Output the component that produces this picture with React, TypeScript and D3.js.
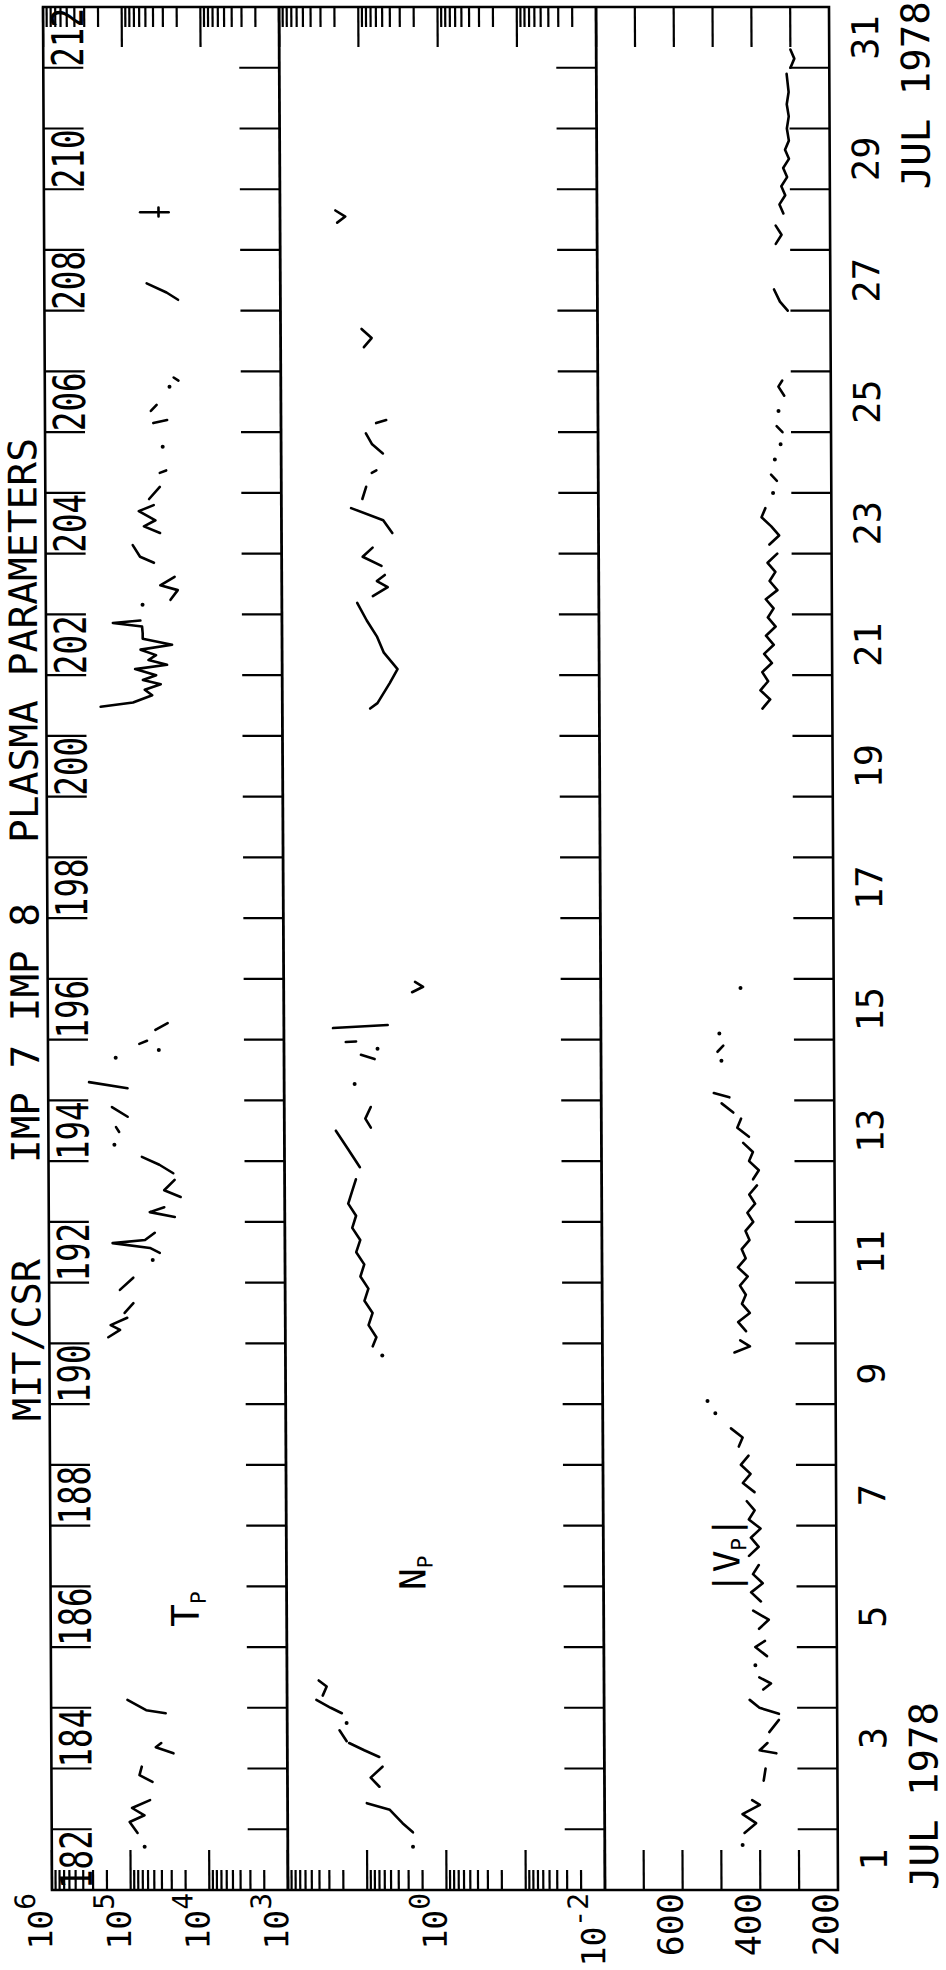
import React from 'react';
import * as d3 from 'd3';

type Pt = [number, number];

// ---- axis labels / ticks ----
const dayBoundaries = d3.range(1, 33);
const dayLabels = [1, 3, 5, 7, 9, 11, 13, 15, 17, 19, 21, 23, 25, 27, 29, 31];
const doyLabels = [182, 184, 186, 188, 190, 192, 194, 196, 198, 200, 202, 204, 206, 208, 210, 212];
const tpDecades = [1e3, 1e4, 1e5, 1e6];
const npDecades = [1e-2, 1e-1, 1e0, 1e1, 1e2];
const vpTicks = [300, 400, 500, 600, 700];
const tpLabels = [6, 5, 4, 3];
const npLabels = [0, -2];
const vpLabels = [600, 400, 200];

// ---- data: [day of July (decimal), value] segments ----
const tpSegments: Pt[][] = [
  [[1.71, 66000]],
  [[1.94, 81000], [2.12, 102000], [2.23, 66000], [2.35, 95000], [2.48, 56000]],
  [[2.78, 52000], [2.89, 76000], [3.03, 71000]],
  [[3.25, 28000], [3.35, 47000], [3.42, 40000]],
  [[3.91, 35000], [3.96, 62000], [4.13, 107000]],
  [[10.1, 178000], [10.22, 126000], [10.3, 166000], [10.42, 102000]],
  [[10.5, 110000], [10.66, 85000]],
  [[10.88, 126000], [11.08, 85000]],
  [[11.37, 48000]],
  [[11.49, 39000], [11.57, 52000], [11.65, 155000], [11.7, 60000], [11.82, 45000]],
  [[12.08, 25000], [12.16, 52000], [12.24, 34000]],
  [[12.41, 21000], [12.52, 34000], [12.69, 25000]],
  [[12.8, 26000], [12.94, 39000], [13.07, 65000]],
  [[13.27, 145000]],
  [[13.48, 126000], [13.56, 138000]],
  [[13.73, 98000], [13.89, 155000]],
  [[14.2, 98000], [14.3, 302000]],
  [[14.7, 138000]],
  [[14.83, 39000]],
  [[14.93, 69000], [14.98, 55000]],
  [[15.16, 43000], [15.27, 30000]],
  [[20.48, 204000], [20.55, 79000], [20.67, 45000], [20.76, 56000], [20.85, 35000], [20.92, 59000],
   [21.0, 40000], [21.1, 74000], [21.17, 29000], [21.25, 50000], [21.33, 40000], [21.42, 63000],
   [21.5, 25000], [21.6, 59000], [21.69, 59000], [21.8, 60000], [21.86, 141000], [21.9, 63000]],
  [[22.16, 59000]],
  [[22.24, 26000], [22.4, 21000], [22.48, 35000], [22.62, 23000]],
  [[22.85, 42000], [22.95, 63000], [23.14, 78000]],
  [[23.34, 35000], [23.45, 56000], [23.55, 40000], [23.7, 65000], [23.8, 42000]],
  [[23.9, 48000], [24.1, 35000]],
  [[24.33, 35000], [24.37, 29000]],
  [[24.76, 32000]],
  [[25.15, 42000], [25.2, 28000]],
  [[25.35, 45000], [25.45, 38000]],
  [[25.75, 26000]],
  [[25.85, 20000], [25.9, 23000]],
  [[27.18, 20000], [27.3, 28000], [27.45, 50000]],
  [[28.55, 35000], [28.7, 35000]],
  [[28.62, 60000], [28.62, 26000]],
];

const npSegments: Pt[][] = [
  [[1.71, 2.63]],
  [[1.95, 2.63], [2.1, 3.55], [2.32, 5.13], [2.43, 10.0]],
  [[2.7, 6.92], [2.85, 8.91], [3.03, 6.31]],
  [[3.19, 6.92], [3.3, 10.7], [3.42, 16.6]],
  [[3.45, 17.8], [3.63, 21.9]],
  [[3.75, 17.8]],
  [[3.91, 20.4], [4.0, 28.2], [4.13, 42.7]],
  [[4.2, 35.5], [4.35, 31.6], [4.45, 39.8]],
  [[9.8, 6.0]],
  [[9.95, 7.9], [10.1, 7.1], [10.3, 8.9], [10.5, 7.9], [10.7, 10.0], [10.9, 8.9], [11.1, 11.2],
   [11.3, 10.0], [11.5, 12.6], [11.7, 11.2], [11.9, 14.1], [12.1, 12.6], [12.3, 15.8], [12.5, 14.1], [12.7, 12.6]],
  [[12.9, 11.2], [13.2, 15.8], [13.5, 22.4]],
  [[13.55, 8.1], [13.7, 9.5], [13.89, 8.1]],
  [[14.27, 12.9]],
  [[14.68, 7.2], [14.75, 10.7]],
  [[14.85, 6.6]],
  [[14.96, 16.6], [14.97, 12.3]],
  [[15.19, 24.0], [15.24, 4.9]],
  [[15.78, 2.4], [15.87, 1.74], [15.95, 2.2]],
  [[20.45, 7.8], [20.54, 6.3], [20.87, 4.4], [21.1, 3.5], [21.37, 5.2], [21.63, 6.3], [21.9, 8.5], [22.19, 11.2]],
  [[22.3, 7.1], [22.45, 4.6], [22.55, 6.3], [22.65, 5.0]],
  [[22.8, 5.5], [22.95, 9.5], [23.1, 7.1]],
  [[23.34, 4.0], [23.55, 5.2], [23.75, 13.2]],
  [[23.9, 9.5], [24.1, 8.5]],
  [[24.33, 7.2], [24.37, 6.3]],
  [[24.65, 5.2], [24.8, 7.1], [24.98, 8.5]],
  [[25.15, 6.3], [25.2, 4.7]],
  [[26.4, 8.9], [26.55, 7.1], [26.7, 9.5]],
  [[28.45, 19.0], [28.55, 15.0], [28.65, 20.0]],
];

const vpSegments: Pt[][] = [
  [[1.74, 445]],
  [[1.94, 440], [2.1, 410], [2.25, 445], [2.4, 400], [2.48, 420]],
  [[2.8, 390], [3.0, 385]],
  [[3.25, 357], [3.3, 400], [3.42, 380]],
  [[3.6, 375], [3.8, 350]],
  [[3.9, 350], [4.0, 400], [4.13, 425]],
  [[4.3, 390], [4.4, 370], [4.5, 400]],
  [[4.7, 410]],
  [[4.85, 380], [5.0, 410], [5.1, 385]],
  [[5.3, 400], [5.45, 375], [5.6, 415]],
  [[5.75, 395], [5.9, 420], [6.05, 390], [6.2, 415], [6.35, 400]],
  [[6.5, 425], [6.65, 400], [6.8, 420], [6.95, 395], [7.1, 425], [7.25, 410], [7.4, 430]],
  [[7.55, 410], [7.7, 440], [7.85, 420], [8.0, 445], [8.15, 425]],
  [[8.3, 450], [8.45, 440], [8.6, 470]],
  [[8.85, 510]],
  [[9.05, 530]],
  [[9.85, 460], [9.95, 420], [10.05, 445]],
  [[10.2, 430], [10.35, 450], [10.5, 420], [10.65, 440], [10.8, 430], [10.95, 445], [11.1, 425], [11.25, 450],
   [11.4, 430], [11.55, 440], [11.7, 420], [11.85, 430], [12.0, 410], [12.15, 425], [12.3, 405], [12.45, 420], [12.6, 400]],
  [[12.7, 410], [12.85, 395], [13.0, 420], [13.15, 410], [13.3, 435]],
  [[13.4, 420], [13.55, 450], [13.7, 440]],
  [[13.8, 460], [13.95, 490]],
  [[14.05, 470], [14.12, 510]],
  [[14.65, 490]],
  [[14.8, 500], [14.9, 485]],
  [[15.1, 495]],
  [[15.85, 440]],
  [[20.45, 380], [20.6, 360], [20.75, 385], [20.9, 365], [21.05, 380], [21.2, 355], [21.35, 375], [21.5, 350],
   [21.65, 370], [21.8, 345], [21.95, 365], [22.1, 350], [22.25, 370], [22.4, 340], [22.55, 360], [22.7, 345],
   [22.85, 365], [23.0, 340]],
  [[23.15, 360], [23.3, 335], [23.45, 355], [23.6, 380], [23.75, 370]],
  [[24.0, 350]],
  [[24.2, 340], [24.3, 355]],
  [[24.55, 345]],
  [[24.8, 330]],
  [[25.0, 325], [25.1, 340]],
  [[25.35, 335]],
  [[25.6, 320], [25.75, 335], [25.85, 325]],
  [[27.0, 310], [27.15, 330], [27.35, 345]],
  [[28.1, 340], [28.25, 325], [28.4, 340]],
  [[28.6, 320], [28.75, 330], [28.9, 315], [29.05, 325], [29.2, 310], [29.35, 320], [29.5, 305], [29.65, 315],
   [29.8, 305], [30.0, 310], [30.2, 305], [30.4, 310], [30.6, 305], [30.9, 310]],
  [[31.0, 300], [31.15, 290], [31.3, 300]],
];

// ---- layout (landscape, later rotated into the portrait page) ----
const PW = 1883; // time length
const PH = 786; // total panel height
const P1 = 236; // Tp / Np boundary
const P2 = 553; // Np / Vp boundary
const FONT = '"DejaVu Sans Mono", "Liberation Mono", monospace';

const x = d3.scaleLinear().domain([1, 32]).range([0, PW]);
const yT = d3.scaleLog().domain([1e3, 1e6]).range([P1, 0]);
const yN = d3.scaleLog().domain([1e-2, 1e2]).range([P2, P1]);
const yV = d3.scaleLinear().domain([200, 800]).range([PH, P2]);

function minorLog(domain: number[]) {
  const out: number[] = [];
  for (let e = Math.log10(domain[0]); e < Math.log10(domain[1]); e++) {
    for (let m = 2; m <= 9; m++) out.push(m * Math.pow(10, e));
  }
  return out;
}

const Trace = ({ segs, y }: { segs: Pt[][]; y: (v: number) => number }) => {
  const line = d3.line<Pt>().x(d => x(d[0])).y(d => y(d[1])).curve(d3.curveLinear);
  return (
    <g>
      {segs.map((s, i) =>
        s.length === 1 ? (
          <circle key={i} cx={x(s[0][0])} cy={y(s[0][1])} r={2} fill="#000" />
        ) : (
          <path key={i} d={line(s) || ''} fill="none" stroke="#000" strokeWidth={2.6}
            strokeLinejoin="round" strokeLinecap="round" />
        )
      )}
    </g>
  );
};

export default function App() {
  const tick = { stroke: '#000', strokeWidth: 2.2 };
  const yTicksLeftRight: { y: number; len: number }[] = [];
  tpDecades.forEach(v => yTicksLeftRight.push({ y: yT(v), len: 40 }));
  minorLog([1e3, 1e6]).forEach(v => yTicksLeftRight.push({ y: yT(v), len: 20 }));
  npDecades.forEach(v => yTicksLeftRight.push({ y: yN(v), len: 40 }));
  minorLog([1e-2, 1e2]).forEach(v => yTicksLeftRight.push({ y: yN(v), len: 20 }));
  vpTicks.forEach(v => yTicksLeftRight.push({ y: yV(v), len: 40 }));

  return (
    <svg width={946} height={1970} style={{ position: 'absolute', left: 0, top: 0, background: '#fff' }}>
      <rect width={946} height={1970} fill="#fff" />
      <g transform="translate(0,1890) skewX(0.274) translate(0,-1890)">
        <g transform="translate(52,1890) rotate(-90)" fontFamily={FONT} fill="#000">
          {/* frame and panel dividers */}
          <rect x={0} y={0} width={PW} height={PH} fill="none" stroke="#000" strokeWidth={2.6} />
          <line x1={0} x2={PW} y1={P1} y2={P1} stroke="#000" strokeWidth={2.8} />
          <line x1={0} x2={PW} y1={P2} y2={P2} stroke="#000" strokeWidth={2.8} />

          {/* y ticks on both sides */}
          {yTicksLeftRight.map((t, i) => (
            <g key={i}>
              <line x1={0} x2={t.len} y1={t.y} y2={t.y} {...tick} />
              <line x1={PW - t.len} x2={PW} y1={t.y} y2={t.y} {...tick} />
            </g>
          ))}

          {/* day ticks */}
          {dayBoundaries.slice(1, -1).map(d => (
            <g key={d}>
              <line x1={x(d)} x2={x(d)} y1={0} y2={40} {...tick} />
              <line x1={x(d)} x2={x(d)} y1={P1 - 40} y2={P1} {...tick} />
              <line x1={x(d)} x2={x(d)} y1={P2 - 40} y2={P2} {...tick} />
              <line x1={x(d)} x2={x(d)} y1={PH - 40} y2={PH} {...tick} />
            </g>
          ))}

          {/* day-of-year labels */}
          {doyLabels.map(doy => {
            const d = doy - 181;
            return (
              <text key={doy} x={x(d) + 1} y={40} fontSize={44} textLength={x(d + 1) - x(d) - 2}
                lengthAdjust="spacingAndGlyphs">{doy}</text>
            );
          })}

          {/* day of month labels */}
          {dayLabels.map(d => (
            <text key={d} x={x(d + 0.5)} y={835} fontSize={37} textAnchor="middle">{d}</text>
          ))}
          <text x={x(1)} y={886} fontSize={39} textLength={188} lengthAdjust="spacingAndGlyphs">JUL 1978</text>
          <text x={x(29)} y={886} fontSize={39} textLength={188} lengthAdjust="spacingAndGlyphs">JUL 1978</text>

          {/* title */}
          <text x={469} y={-9} fontSize={39} textLength={162} lengthAdjust="spacingAndGlyphs">MIT/CSR</text>
          <text x={727} y={-9} fontSize={39} textLength={260} lengthAdjust="spacingAndGlyphs">IMP 7 IMP 8</text>
          <text x={1047} y={-9} fontSize={39} textLength={405} lengthAdjust="spacingAndGlyphs">PLASMA PARAMETERS</text>

          {/* left value labels */}
          {tpLabels.map(e => (
            <text key={'t' + e} x={-3} y={yT(Math.pow(10, e))} textAnchor="end" fontSize={33}>
              10<tspan fontSize={28} dy={-17}>{e}</tspan>
            </text>
          ))}
          {npLabels.map(e => (
            <text key={'n' + e} x={-3} y={yN(Math.pow(10, e))} textAnchor="end" fontSize={33}>
              10<tspan fontSize={28} dy={-17}>{e}</tspan>
            </text>
          ))}
          {vpLabels.map(v => (
            <text key={'v' + v} x={-3} y={yV(v)} textAnchor="end" fontSize={35}>{v}</text>
          ))}

          {/* panel labels */}
          <text x={263} y={148} fontSize={38}>T<tspan fontSize={21} dy={7}>P</tspan></text>
          <text x={300} y={375} fontSize={36}>N<tspan fontSize={21} dy={7}>P</tspan></text>
          <text x={296} y={689} fontSize={36}>|V<tspan fontSize={21} dy={7}>P</tspan><tspan dy={-7}>|</tspan></text>

          {/* traces */}
          <Trace segs={tpSegments} y={yT} />
          <Trace segs={npSegments} y={yN} />
          <Trace segs={vpSegments} y={yV} />
        </g>
      </g>
    </svg>
  );
}
